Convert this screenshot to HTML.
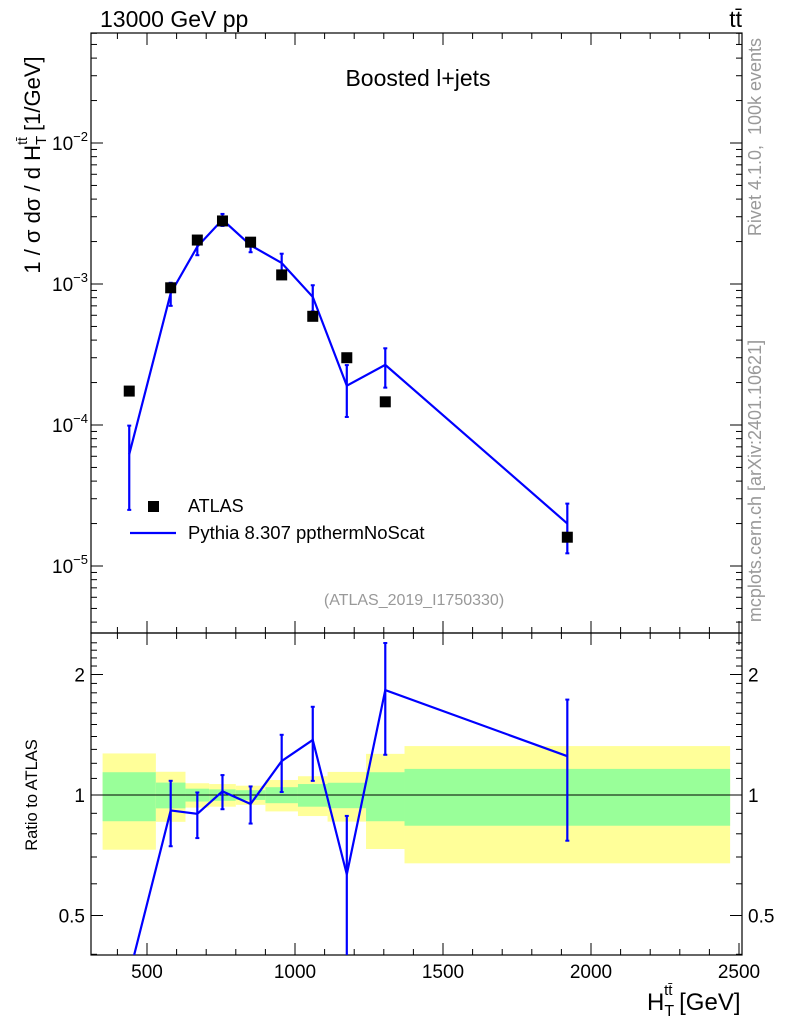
<!DOCTYPE html>
<html><head><meta charset="utf-8"><style>
html,body{margin:0;background:#fff;overflow:hidden;width:786px;height:1024px}
svg{display:block;font-family:"Liberation Sans",sans-serif}
</style></head><body>
<svg id="c" width="786" height="1024" viewBox="0 0 786 1024" xmlns="http://www.w3.org/2000/svg"></svg>
<script>
const binEdges=[350,530,630,710,800,900,1010,1110,1240,1370,2470];
const xVals=[440,580,670,755,850,955,1060,1175,1305,1920];
const atlasVals=[1.74e-4,9.4e-4,2.05e-3,2.8e-3,1.98e-3,1.16e-3,5.9e-4,3.0e-4,1.46e-4,1.6e-5];
const mcVals=[6.2e-5,8.6e-4,1.84e-3,2.86e-3,1.88e-3,1.41e-3,8.1e-4,1.9e-4,2.67e-4,2.0e-5];
const mcErrs=[3.7e-5,1.6e-4,2.4e-4,2.8e-4,2.0e-4,2.3e-4,1.7e-4,7.6e-5,8.3e-5,7.7e-6];
const bandTot=[0.27,0.143,0.07,0.065,0.055,0.09,0.114,0.142,0.267,0.325];
const bandStat=[0.14,0.074,0.037,0.033,0.028,0.046,0.065,0.073,0.14,0.162];
const xTicks=[500,1000,1500,2000,2500];
const ratioTicks=[0.5,1,2];

const S='http://www.w3.org/2000/svg', svg=document.getElementById('c');
function el(t,a,p){const e=document.createElementNS(S,t);for(const k in a)e.setAttribute(k,a[k]);(p||svg).appendChild(e);return e;}
const L=91,R=742,T=33,M=633,B=955;
const X=v=>147+(v-500)*0.296;
const Y=v=>143-(Math.log10(v)+2)*141;
const YR=v=>795-Math.log2(v)*120.5;

const defs=el('defs',{});
const cp1=el('clipPath',{id:'cm'},defs);el('rect',{x:L,y:T,width:R-L,height:M-T},cp1);
const cp2=el('clipPath',{id:'cr'},defs);el('rect',{x:L,y:M,width:R-L,height:B-M},cp2);

const gb=el('g',{'clip-path':'url(#cr)'});

for(let i=0;i<bandTot.length;i++){
  const x0=X(binEdges[i]),x1=X(binEdges[i+1]);
  const r1=el('rect',{x:x0,y:YR(1+bandTot[i]),width:x1-x0,height:YR(1-bandTot[i])-YR(1+bandTot[i]),fill:'#ffff99'},gb);
  
  const r2=el('rect',{x:x0,y:YR(1+bandStat[i]),width:x1-x0,height:YR(1-bandStat[i])-YR(1+bandStat[i]),fill:'#99ff99'},gb);
  
}
el('line',{x1:L,x2:R,y1:YR(1),y2:YR(1),stroke:'#000','stroke-width':1},gb);

const f1=el('rect',{x:L,y:T,width:R-L,height:M-T,fill:'none',stroke:'#000','stroke-width':1.2});

const f2=el('rect',{x:L,y:M,width:R-L,height:B-M,fill:'none',stroke:'#000','stroke-width':1.2});


for(let v=400;v<=2700;v+=100){const x=X(v);if(x<L||x>R)continue;const big=v%500==0;const h=big?12:6;
  el('line',{x1:x,x2:x,y1:M,y2:M-h,stroke:'#000'});el('line',{x1:x,x2:x,y1:T,y2:T+h,stroke:'#000'});
  el('line',{x1:x,x2:x,y1:B,y2:B-h,stroke:'#000'});el('line',{x1:x,x2:x,y1:M,y2:M+h,stroke:'#000'});}
xTicks.forEach(v=>{const t=el('text',{x:X(v),y:978,'font-size':19,'text-anchor':'middle'});t.textContent=v;
  });

for(let d=-6;d<=-1;d++)for(let m=1;m<=9;m++){const v=m*Math.pow(10,d);const y=Y(v);if(y<T||y>M)continue;const h=m==1?12:6;
  el('line',{x1:L,x2:L+h,y1:y,y2:y,stroke:'#000'});el('line',{x1:R,x2:R-h,y1:y,y2:y,stroke:'#000'});
  if(m==1){const t=el('text',{x:52,y:y+7,'font-size':19});t.textContent='10';
    const s=el('tspan',{dy:-9,'font-size':13},t);s.textContent=String(d).replace('-','−');
    }}

for(let v=0.4;v<=2.5;v+=0.1){const vv=Math.round(v*10)/10;const y=YR(vv);if(y<M||y>B)continue;
  const big=ratioTicks.includes(vv);const h=big?12:6;
  el('line',{x1:L,x2:L+h,y1:y,y2:y,stroke:'#000'});el('line',{x1:R,x2:R-h,y1:y,y2:y,stroke:'#000'});}
ratioTicks.forEach(v=>{const y=YR(v)+7;
  const a=el('text',{x:85,y:y,'font-size':19,'text-anchor':'end'});a.textContent=v;
  
  const b=el('text',{x:748,y:y,'font-size':19});b.textContent=v;
  });

const gm=el('g',{'clip-path':'url(#cm)'});
const pl=el('polyline',{points:xVals.map((x,i)=>X(x)+','+Y(mcVals[i])).join(' '),fill:'none',stroke:'#0000ff','stroke-width':2.2},gm);

xVals.forEach((x,i)=>{const lo=Y(Math.max(mcVals[i]-mcErrs[i],1e-7)),hi=Y(mcVals[i]+mcErrs[i]);
  const e=el('line',{x1:X(x),x2:X(x),y1:lo,y2:hi,stroke:'#0000ff','stroke-width':2.2},gm);
  
  el('line',{x1:X(x)-2,x2:X(x)+2,y1:lo,y2:lo,stroke:'#0000ff','stroke-width':2},gm);
  el('line',{x1:X(x)-2,x2:X(x)+2,y1:hi,y2:hi,stroke:'#0000ff','stroke-width':2},gm);});
xVals.forEach((x,i)=>{const r=el('rect',{x:X(x)-5.5,y:Y(atlasVals[i])-5.5,width:11,height:11,fill:'#000'},gm);
  });

const gr=el('g',{'clip-path':'url(#cr)'});
const rl=el('polyline',{points:xVals.map((x,i)=>X(x)+','+YR(mcVals[i]/atlasVals[i])).join(' '),fill:'none',stroke:'#0000ff','stroke-width':2.2},gr);

xVals.forEach((x,i)=>{const r=mcVals[i]/atlasVals[i],e=mcErrs[i]/atlasVals[i];
  if(YR(r)>B||YR(r)<M)return;
  const lo=YR(Math.max(r-e,0.01)),hi=YR(r+e);
  const l=el('line',{x1:X(x),x2:X(x),y1:lo,y2:hi,stroke:'#0000ff','stroke-width':2.2},gr);
  
  el('line',{x1:X(x)-2,x2:X(x)+2,y1:lo,y2:lo,stroke:'#0000ff','stroke-width':2},gr);
  el('line',{x1:X(x)-2,x2:X(x)+2,y1:hi,y2:hi,stroke:'#0000ff','stroke-width':2},gr);});

function txt(s,a,name){const t=el('text',a);t.textContent=s;return t;}
txt('13000 GeV pp',{x:100,y:27,'font-size':23},'energy-label');
txt('tt̄',{x:742,y:27,'font-size':23,'text-anchor':'end'},'process-label');
txt('Boosted l+jets',{x:418,y:86,'font-size':23,'text-anchor':'middle'},'plot-title');
txt('(ATLAS_2019_I1750330)',{x:414,y:605,'font-size':16,'text-anchor':'middle',fill:'#999'},'analysis-id');
txt('Rivet 4.1.0,\u00a0 100k events',{x:0,y:0,'font-size':18,fill:'#999','text-anchor':'middle',transform:'translate(761,137) rotate(-90)'},'rivet-label');
txt('mcplots.cern.ch [arXiv:2401.10621]',{x:0,y:0,'font-size':18,fill:'#999','text-anchor':'middle',transform:'translate(761,481) rotate(-90)'},'mcplots-label');
const yl=txt('1 / σ dσ / d H',{x:0,y:0,'font-size':22,'text-anchor':'middle',transform:'translate(40,165) rotate(-90)'},'y-axis-title');
const s1=el('tspan',{dy:6,'font-size':15},yl);s1.textContent='T';
const s2=el('tspan',{dy:-19,dx:-9,'font-size':14},yl);s2.textContent='tt̄';
const s3=el('tspan',{dy:13,'font-size':22},yl);s3.textContent=' [1/GeV]';
txt('Ratio to ATLAS',{x:0,y:0,'font-size':16.5,'text-anchor':'middle',transform:'translate(37,795) rotate(-90)'},'ratio-axis-title');
const xl=txt('H',{x:647,y:1010,'font-size':24},'x-axis-title');
const a1=el('tspan',{dy:6,'font-size':16},xl);a1.textContent='T';
const a2=el('tspan',{dy:-21,dx:-10,'font-size':15},xl);a2.textContent='tt̄';
const a3=el('tspan',{dy:15,'font-size':24},xl);a3.textContent=' [GeV]';

const lg=el('g',{});
el('rect',{x:148,y:501,width:11,height:11,fill:'#000'},lg);
const t1=el('text',{x:188,y:512,'font-size':18},lg);t1.textContent='ATLAS';

el('line',{x1:130,x2:176,y1:533,y2:533,stroke:'#0000ff','stroke-width':2.2},lg);
const t2=el('text',{x:188,y:539,'font-size':18.5},lg);t2.textContent='Pythia 8.307 ppthermNoScat';

</script>
</body></html>
